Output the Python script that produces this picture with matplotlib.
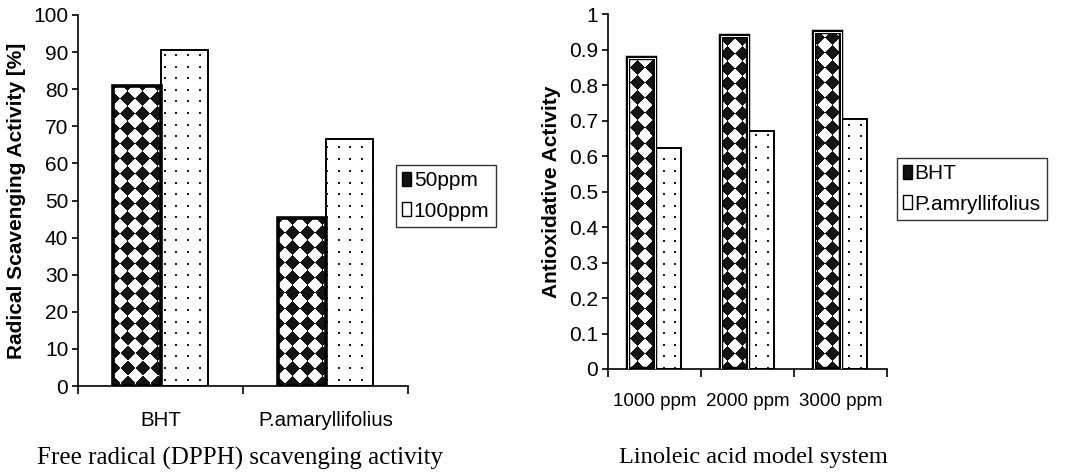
import matplotlib
matplotlib.use("Agg")
import matplotlib.pyplot as plt
import numpy as np
from matplotlib.patches import Patch

plt.rcParams['font.family'] = ['Liberation Sans', 'DejaVu Sans']

# left chart: DPPH scavenging
dpph_groups = ["BHT", "P.amaryllifolius"]
dpph_50 = [80.8, 45.3]
dpph_100 = [90.5, 66.7]

# right chart: linoleic acid system
lin_groups = ["1000 ppm", "2000 ppm", "3000 ppm"]
lin_bht = [0.877, 0.938, 0.950]
lin_pam = [0.622, 0.671, 0.703]

W, H = 1073, 474
fig = plt.figure(figsize=(W / 100, H / 100), dpi=100)


def pattern(ax, kind):
    # pixel-sized pattern covering the axes, later clipped to a bar
    bb = ax.get_window_extent()
    nx, ny = int(round(bb.width)), int(round(bb.height))
    x = np.arange(nx) + bb.x0
    y = np.arange(ny) + bb.y0
    X, Y = np.meshgrid(x, y)
    img = np.ones((ny, nx, 3))
    if kind == "diamond":
        p = 15.0
        k = np.floor((X + Y) / p) + np.floor((X - Y) / p)
        img[(k % 2) == 0] = 0.08
    else:
        p = 11.6
        m = ((X % p) < 2) & ((Y % p) < 2)
        img[m] = 0.1
    return img


def patterned_bars(ax, xs, vals, width, kind, lw, inner=False):
    bars = ax.bar(xs, vals, width, color="white", edgecolor="none", zorder=1)
    img = pattern(ax, kind)
    for b in bars:
        im = ax.imshow(img, extent=(0, 1, 0, 1), transform=ax.transAxes,
                       origin="lower", interpolation="nearest", zorder=2,
                       aspect="auto")
        im.set_clip_path(b)
    ax.bar(xs, vals, width, fill=False, edgecolor="black", linewidth=lw, zorder=3)
    if inner:
        ax.bar(xs, vals, width, fill=False, edgecolor="white", linewidth=0.7, zorder=4)


def style(ax, n, ymax, yticks, yfmt, fs):
    ax.set_xlim(-0.5, n - 0.5)
    ax.set_ylim(0, ymax)
    for s in ["top", "right"]:
        ax.spines[s].set_visible(False)
    for s in ["left", "bottom"]:
        ax.spines[s].set_linewidth(1.2)
    ax.set_yticks(yticks)
    ax.set_yticklabels([yfmt(v) for v in yticks], fontsize=fs)
    ax.set_xticks(np.arange(n + 1) - 0.5)
    ax.set_xticklabels([])
    ax.tick_params(axis="x", which="major", direction="out", length=6, width=1.2)
    ax.tick_params(axis="y", direction="out", length=4, width=1.2, pad=3)


def add_legend(ax, labels, anchor):
    leg = ax.legend(handles=[Patch(facecolor="#111111", edgecolor="black"),
                             Patch(facecolor="white", edgecolor="black")],
                    labels=labels, loc="upper left",
                    bbox_to_anchor=anchor, bbox_transform=fig.transFigure,
                    borderaxespad=0, fancybox=False, edgecolor="black", fontsize=15,
                    handlelength=0.4, handleheight=0.65, handletextpad=0.15,
                    borderpad=0.3, labelspacing=0.55)
    leg.get_frame().set_linewidth(1.0)
    return leg


# ---- left
ax1 = fig.add_axes([78 / W, 1 - 386 / H, 330 / W, 371 / H])
x1 = np.arange(len(dpph_groups))
bw = 0.285
patterned_bars(ax1, x1 - bw / 2, dpph_50, bw, "diamond", 2.6)
patterned_bars(ax1, x1 + bw / 2, dpph_100, bw, "dots", 1.4)
style(ax1, 2, 100, np.arange(0, 101, 10), lambda v: f"{v:d}", 15)
ax1.set_xticks(x1, minor=True)
ax1.set_xticklabels(dpph_groups, minor=True, fontsize=14.8)
ax1.tick_params(axis="x", which="minor", length=0, pad=18)
ax1.set_ylabel("Radical Scavenging Activity [%]", fontsize=15, fontweight="bold",
               labelpad=5)
add_legend(ax1, ["50ppm", "100ppm"], (396 / W, 1 - 165 / H))

# ---- right
ax2 = fig.add_axes([608 / W, 1 - 369 / H, 279 / W, 355 / H])
x2 = np.arange(len(lin_groups))
bw2 = 0.29
patterned_bars(ax2, x2 - bw2 / 2, lin_bht, bw2, "diamond", 3.2, inner=True)
patterned_bars(ax2, x2 + bw2 / 2, lin_pam, bw2, "dots", 1.4)
style(ax2, 3, 1.0, np.round(np.arange(0, 1.01, 0.1), 1),
      lambda v: "0" if v == 0 else ("1" if v == 1 else f"{v:.1f}"), 15)
ax2.set_xticks(x2, minor=True)
ax2.set_xticklabels(lin_groups, minor=True, fontsize=13.5)
ax2.tick_params(axis="x", which="minor", length=0, pad=17)
ax2.set_ylabel("Antioxidative Activity", fontsize=15, fontweight="bold", labelpad=6)
add_legend(ax2, ["BHT", "P.amryllifolius"], (897 / W, 1 - 158 / H))

fig.text(240 / W, 1 - 458 / H, "Free radical (DPPH) scavenging activity",
         family="Liberation Serif", fontsize=18, ha="center", va="center")
fig.text(753 / W, 1 - 458 / H, "Linoleic acid model system",
         family="Liberation Serif", fontsize=17.6, ha="center", va="center")

fig.savefig("out.png", dpi=100)
